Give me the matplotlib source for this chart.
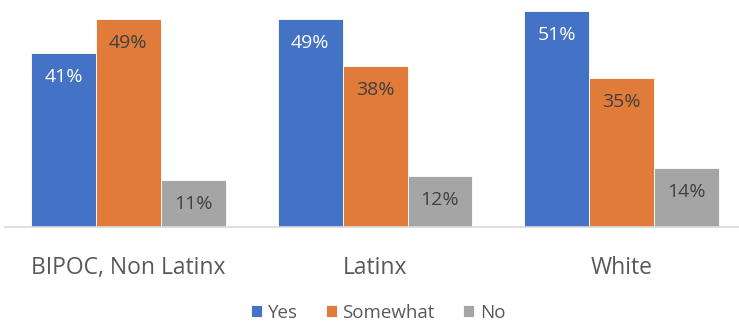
import matplotlib
matplotlib.use("Agg")
import matplotlib.pyplot as plt
import numpy as np

categories = ["BIPOC, Non Latinx", "Latinx", "White"]
series_names = ["Yes", "Somewhat", "No"]
yes = [41, 49, 51]
somewhat = [49, 38, 35]
no = [11, 12, 14]

colors = ["#4472C4", "#E07B39", "#A5A5A5"]
label_colors = ["white", "#404040", "#404040"]

plt.rcParams["font.family"] = ["Open Sans", "DejaVu Sans"]

fig = plt.figure(figsize=(7.39, 3.28), dpi=100)
ax = fig.add_axes([5 / 739, 101 / 328, 734 / 739, 227 / 328])

x = np.arange(len(categories))
width = 0.263
values = [yes, somewhat, no]
for i, (name, vals) in enumerate(zip(series_names, values)):
    pos = x + (i - 1) * width
    bars = ax.bar(pos, vals, width, color=colors[i], label=name,
                  edgecolor="white", linewidth=0.6)
    for b, v in zip(bars, vals):
        ax.annotate(f"{v}%", (b.get_x() + b.get_width() / 2, v),
                    xytext=(0, -24), textcoords="offset pixels",
                    ha="center", va="center", fontsize=14,
                    color=label_colors[i])

ax.set_xlim(-0.5, 2.475)
ax.set_ylim(0, 53.5)
ax.set_yticks([])
ax.set_xticks(x)
ax.set_xticklabels(categories, fontsize=16.5, color="#595959")
ax.tick_params(axis="x", length=0, pad=21)
for s in ["top", "right", "left"]:
    ax.spines[s].set_visible(False)
ax.spines["bottom"].set_color("#D9D9D9")
ax.spines["bottom"].set_linewidth(1.2)

fig.legend(loc="center", bbox_to_anchor=(378 / 739, 1 - 313 / 328), ncol=3,
           frameon=False, fontsize=13.5, handlelength=0.6, handleheight=0.6,
           handletextpad=0.3, columnspacing=1.5, labelcolor="#595959")

fig.savefig("out.png", dpi=100)
